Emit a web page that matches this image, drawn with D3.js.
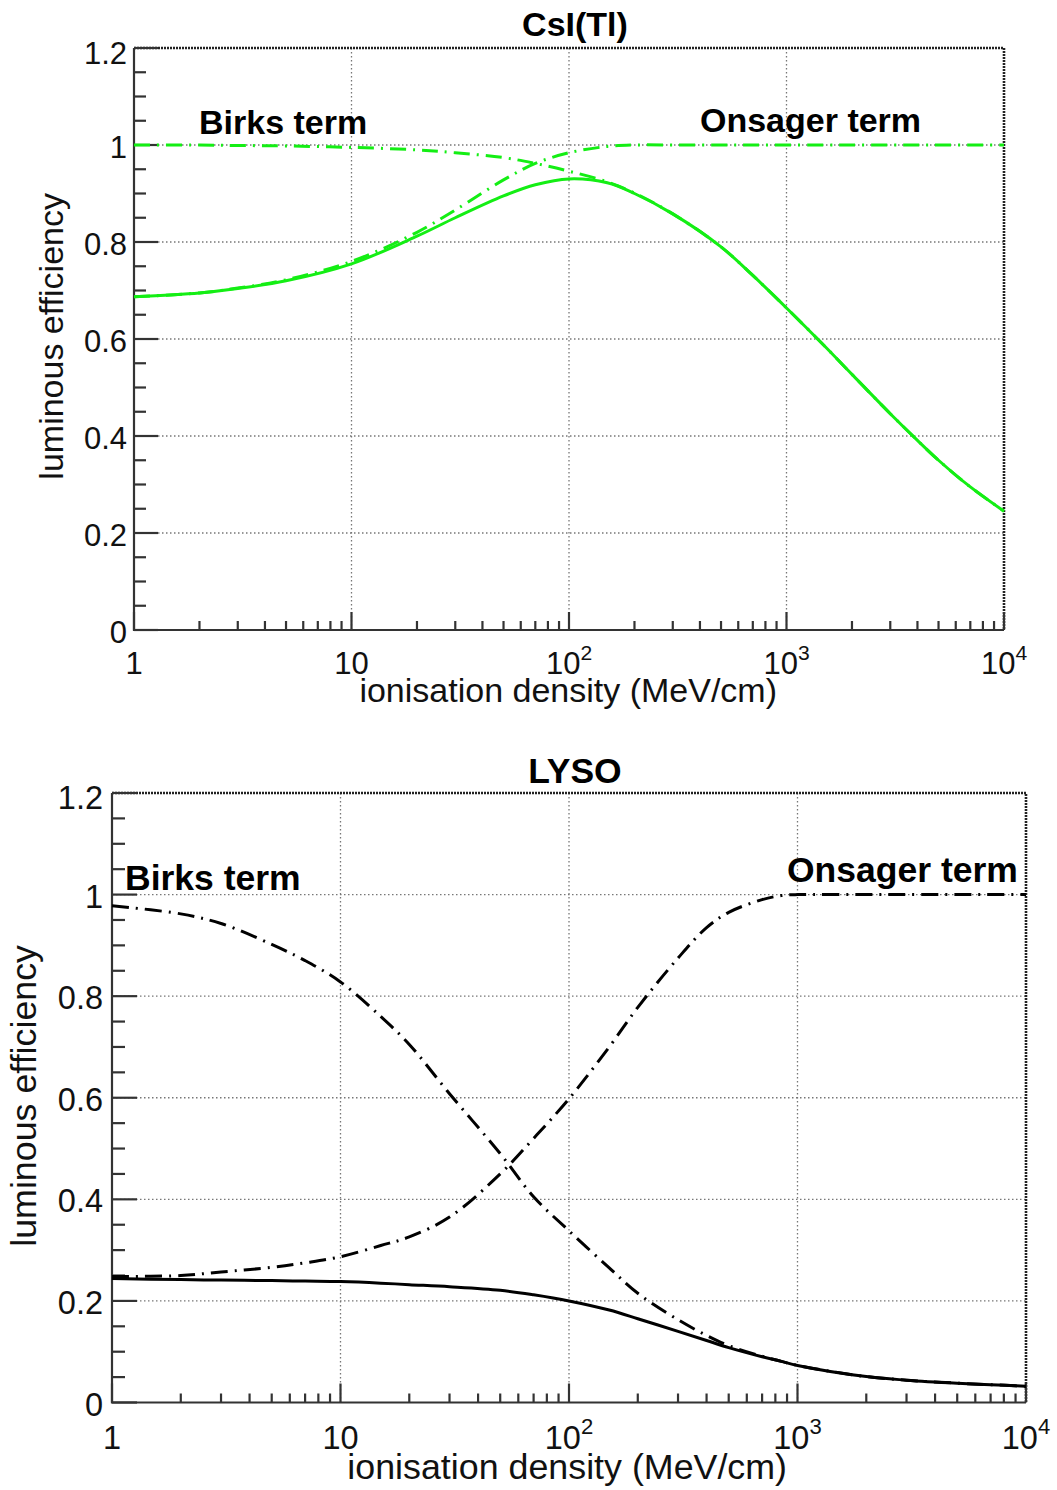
<!DOCTYPE html>
<html><head><meta charset="utf-8">
<script src="https://cdn.jsdelivr.net/npm/d3@7/dist/d3.min.js"></script>
<style>body{margin:0;background:#fff}svg{display:block}text{font-family:"Liberation Sans",Arial,Helvetica,sans-serif}</style>
</head><body><svg id="c" width="1057" height="1490"></svg>
<script>
// ---------- data ----------
const xDecades = [1, 10, 100, 1000, 10000];
const xTickBase = ["1", "10", "10", "10", "10"];
const xTickExp = ["", "", "2", "3", "4"];
const yMajor = [0, 0.2, 0.4, 0.6, 0.8, 1.0, 1.2];
const yTickLabels = ["0", "0.2", "0.4", "0.6", "0.8", "1", "1.2"];
const xTitle = "ionisation density (MeV/cm)";
const yTitle = "luminous efficiency";

const csiX = [1, 2, 3, 5, 10, 20, 30, 50, 70, 100, 150, 200, 300, 500, 700, 1000, 1500, 2000, 3000, 4000, 5000, 7000, 10000];
const csiTotal = [0.687, 0.695, 0.704, 0.720, 0.755, 0.812, 0.850, 0.895, 0.918, 0.930, 0.922, 0.900, 0.858, 0.790, 0.731, 0.664, 0.585, 0.527, 0.446, 0.391, 0.350, 0.295, 0.245];
const csiBirks = [1.000, 1.000, 0.999, 0.998, 0.995, 0.990, 0.984, 0.974, 0.962, 0.946, 0.924, 0.901, 0.858, 0.790, 0.731, 0.664, 0.585, 0.527, 0.446, 0.391, 0.350, 0.295, 0.245];
const csiOnsager = [0.687, 0.695, 0.705, 0.722, 0.760, 0.820, 0.866, 0.928, 0.962, 0.984, 0.997, 1.000, 1.000, 1.000, 1.000, 1.000, 1.000, 1.000, 1.000, 1.000, 1.000, 1.000, 1.000];

const lysoX = [1, 2, 3, 5, 7, 10, 15, 20, 30, 50, 70, 100, 150, 200, 300, 400, 500, 700, 850, 1000, 2000, 3000, 5000, 7000, 10000];
const lysoTotal = [0.244, 0.242, 0.241, 0.240, 0.239, 0.238, 0.235, 0.232, 0.228, 0.221, 0.212, 0.200, 0.182, 0.165, 0.140, 0.122, 0.108, 0.090, 0.081, 0.073, 0.051, 0.044, 0.038, 0.035, 0.032];
const lysoBirks = [0.978, 0.962, 0.943, 0.902, 0.870, 0.828, 0.760, 0.705, 0.608, 0.490, 0.405, 0.338, 0.265, 0.215, 0.163, 0.132, 0.112, 0.091, 0.081, 0.073, 0.051, 0.044, 0.038, 0.035, 0.032];
const lysoOnsager = [0.248, 0.250, 0.257, 0.266, 0.275, 0.287, 0.309, 0.326, 0.365, 0.450, 0.520, 0.598, 0.700, 0.778, 0.875, 0.935, 0.965, 0.990, 0.998, 1.000, 1.000, 1.000, 1.000, 1.000, 1.000];

// ---------- layout ----------
const panels = [
  { title: "CsI(Tl)", color: "#14ee14", x0: 134, x1: 1004, y0: 48, y1: 630,
    xs: csiX, total: csiTotal, birks: csiBirks, onsager: csiOnsager,
    fs: 31, bfs: 34, tfs: 34, titleY: 36, xLabY: 674, xTitleX: 777, xTitleY: 702,
    yTitleX: 63, yTitleEnd: 193, yLabGap: 7, majY: 24, minY: 12, majX: 18, minX: 9,
    birksPos: [199, 134], onsPos: [700, 132], dash: "16 7 2 7" },
  { title: "LYSO", color: "#000000", x0: 112, x1: 1026, y0: 793, y1: 1402.5,
    xs: lysoX, total: lysoTotal, birks: lysoBirks, onsager: lysoOnsager,
    fs: 32.5, bfs: 35.5, tfs: 35.8, titleY: 783, xLabY: 1449, xTitleX: 787, xTitleY: 1479,
    yTitleX: 36, yTitleEnd: 945, yLabGap: 9, majY: 25, minY: 13, majX: 19, minX: 9,
    birksPos: [125, 890], onsPos: [787, 882], dash: "17 7 2 7" }
];

const svg = d3.select("#c");

panels.forEach(p => {
  const x = d3.scaleLog().domain([1, 10000]).range([p.x0, p.x1]);
  const y = d3.scaleLinear().domain([0, 1.2]).range([p.y1, p.y0]);
  const g = svg.append("g");

  // grid
  const gridStyle = s => s.attr("stroke", "#777").attr("stroke-width", 1.3).attr("stroke-dasharray", "1.5 2.5").attr("fill", "none");
  g.selectAll(".gx").data(xDecades.slice(1, 4)).join("line")
    .attr("x1", d => x(d)).attr("x2", d => x(d)).attr("y1", p.y0).attr("y2", p.y1).call(gridStyle);
  g.selectAll(".gy").data(yMajor.slice(1, 6)).join("line")
    .attr("x1", p.x0).attr("x2", p.x1).attr("y1", d => y(d)).attr("y2", d => y(d)).call(gridStyle);

  // frame top/right (dotted dark)
  g.append("path").attr("d", `M${p.x0},${p.y0}H${p.x1}V${p.y1}`)
    .attr("fill", "none").attr("stroke", "#222").attr("stroke-width", 2.6).attr("stroke-dasharray", "2 1");

  // axes left/bottom
  const axisColor = "#333";
  g.append("path").attr("d", `M${p.x0},${p.y0}V${p.y1}H${p.x1}`)
    .attr("fill", "none").attr("stroke", axisColor).attr("stroke-width", 2.2);

  // y ticks
  const yMinor = d3.range(0, 25).map(i => i * 0.05).filter(v => Math.abs(v * 5 - Math.round(v * 5)) > 1e-6);
  g.selectAll(".ymaj").data(yMajor).join("line")
    .attr("x1", p.x0).attr("x2", p.x0 + p.majY).attr("y1", d => y(d)).attr("y2", d => y(d))
    .attr("stroke", axisColor).attr("stroke-width", 2.2);
  g.selectAll(".ymin").data(yMinor).join("line")
    .attr("x1", p.x0).attr("x2", p.x0 + p.minY).attr("y1", d => y(d)).attr("y2", d => y(d))
    .attr("stroke", axisColor).attr("stroke-width", 2.2);

  // x ticks
  const xMinor = [];
  [1, 10, 100, 1000].forEach(dec => { for (let k = 2; k <= 9; k++) xMinor.push(dec * k); });
  g.selectAll(".xmaj").data(xDecades).join("line")
    .attr("x1", d => x(d)).attr("x2", d => x(d)).attr("y1", p.y1).attr("y2", p.y1 - p.majX)
    .attr("stroke", axisColor).attr("stroke-width", 2.2);
  g.selectAll(".xmin").data(xMinor).join("line")
    .attr("x1", d => x(d)).attr("x2", d => x(d)).attr("y1", p.y1).attr("y2", p.y1 - p.minX)
    .attr("stroke", axisColor).attr("stroke-width", 2.2);

  // y tick labels
  g.selectAll(".yl").data(yMajor).join("text")
    .attr("x", p.x0 - p.yLabGap).attr("y", (d, i) => y(d) + (i === yMajor.length - 1 ? 15.5 : 13))
    .attr("text-anchor", "end").attr("font-size", p.fs).attr("fill", "#111")
    .text((d, i) => yTickLabels[i]);

  // x tick labels
  const xl = g.selectAll(".xl").data(xDecades).join("text")
    .attr("x", d => x(d)).attr("y", p.xLabY).attr("text-anchor", "middle")
    .attr("font-size", p.fs).attr("fill", "#111");
  xl.append("tspan").text((d, i) => xTickBase[i]);
  xl.append("tspan").attr("dy", (d, i) => xTickExp[i] ? -p.fs * 0.45 : 0)
    .attr("font-size", p.fs * 0.68).text((d, i) => xTickExp[i]);

  // axis titles
  g.append("text").attr("x", p.xTitleX).attr("y", p.xTitleY).attr("text-anchor", "end")
    .attr("font-size", p.tfs).attr("fill", "#111").text(xTitle);
  g.append("text").attr("transform", `translate(${p.yTitleX},${p.yTitleEnd}) rotate(-90)`)
    .attr("text-anchor", "end").attr("font-size", p.tfs).attr("fill", "#111").text(yTitle);

  // plot title
  g.append("text").attr("x", 575).attr("y", p.titleY).attr("text-anchor", "middle")
    .attr("font-size", p.bfs).attr("font-weight", "bold").attr("fill", "#000").text(p.title);

  // curves
  const mk = vals => d3.line().x((d, i) => x(p.xs[i])).y(d => y(d)).curve(d3.curveCatmullRom.alpha(0.5))(vals);
  g.append("path").attr("d", mk(p.birks)).attr("fill", "none").attr("stroke", p.color)
    .attr("stroke-width", 3).attr("stroke-dasharray", p.dash);
  g.append("path").attr("d", mk(p.onsager)).attr("fill", "none").attr("stroke", p.color)
    .attr("stroke-width", 3).attr("stroke-dasharray", p.dash);
  g.append("path").attr("d", mk(p.total)).attr("fill", "none").attr("stroke", p.color)
    .attr("stroke-width", 3);

  // curve labels
  g.append("text").attr("x", p.birksPos[0]).attr("y", p.birksPos[1])
    .attr("font-size", p.bfs).attr("font-weight", "bold").attr("fill", "#000").text("Birks term");
  g.append("text").attr("x", p.onsPos[0]).attr("y", p.onsPos[1])
    .attr("font-size", p.bfs).attr("font-weight", "bold").attr("fill", "#000").text("Onsager term");
});
</script></body></html>
